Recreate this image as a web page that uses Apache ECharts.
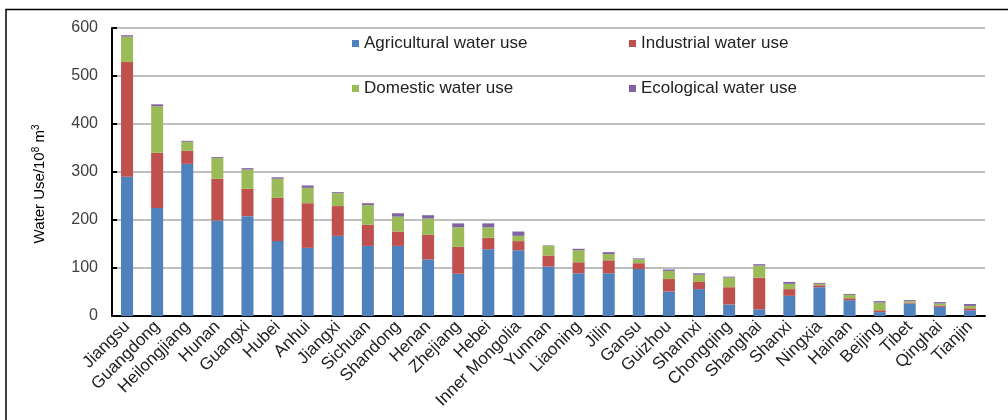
<!DOCTYPE html>
<html>
<head>
<meta charset="utf-8">
<script src="https://cdn.jsdelivr.net/npm/echarts@6/dist/echarts.min.js"></script>
<style>
  html, body { margin: 0; padding: 0; background: #fff; }
  #chart { width: 1008px; height: 420px; }
</style>
</head>
<body>
<div id="chart"></div>
<script>
// Provinces, ordered by total water use (10^8 m^3)
const provinces = ['Jiangsu', 'Guangdong', 'Heilongjiang', 'Hunan', 'Guangxi', 'Hubei', 'Anhui', 'Jiangxi',
  'Sichuan', 'Shandong', 'Henan', 'Zhejiang', 'Hebei', 'Inner Mongolia', 'Yunnan', 'Liaoning', 'Jilin',
  'Gansu', 'Guizhou', 'Shannxi', 'Chongqing', 'Shanghai', 'Shanxi', 'Ningxia', 'Hainan', 'Beijing',
  'Tibet', 'Qinghai', 'Tianjin'];

const agricultural = [290, 225, 317, 199, 208, 156, 142, 167, 146, 146, 118, 88, 139, 137, 103, 89, 89,
  98, 51, 56, 24, 14, 42, 60, 33, 8, 26, 19, 12];
const industrial = [239, 115, 27, 87, 57, 90, 93, 62, 44, 30, 51, 56, 24, 19, 23, 23, 27,
  12, 26, 15, 36, 66, 14, 4, 4, 4, 2, 3, 4];
const domestic = [53, 97, 19, 43, 40, 40, 32, 27, 41, 31, 34, 41, 22, 11, 20, 25, 13,
  8, 17, 15, 20, 25, 11, 3, 7, 16, 3, 4, 5];
const ecological = [3, 4, 2, 2, 3, 3, 5, 2, 4, 7, 7, 8, 8, 9, 1, 3, 4,
  2, 3, 3, 2, 3, 4, 2, 2, 3, 2, 3, 4];

const seriesNames = ['Agricultural water use', 'Industrial water use', 'Domestic water use', 'Ecological water use'];
const seriesColors = ['#4f81bd', '#c0504d', '#9bbb59', '#8064a2'];
const yTicks = { min: 0, max: 600, interval: 100 };

const font = 'Arial, "Liberation Sans", sans-serif';
const chart = echarts.init(document.getElementById('chart'), null, { renderer: 'canvas' });

function legendAt(name, left, top) {
  return {
    data: [name], left: left, top: top, orient: 'horizontal',
    itemWidth: 7, itemHeight: 7, icon: 'rect',
    textStyle: { fontFamily: font, fontSize: 17, color: '#222' },
    selectedMode: false
  };
}

const values = [agricultural, industrial, domestic, ecological];

chart.setOption({
  animation: false,
  grid: { left: 112, right: 23, top: 28, bottom: 104, containLabel: false },
  legend: [
    legendAt(seriesNames[0], 347, 30),
    legendAt(seriesNames[1], 624, 30),
    legendAt(seriesNames[2], 347, 75),
    legendAt(seriesNames[3], 624, 75)
  ],
  xAxis: {
    type: 'category',
    data: provinces,
    axisLine: { lineStyle: { color: '#000', width: 2 } },
    axisTick: { show: false },
    axisLabel: { rotate: 45, interval: 0, margin: 8, fontFamily: font, fontSize: 17, color: '#222' }
  },
  yAxis: {
    type: 'value',
    min: yTicks.min, max: yTicks.max, interval: yTicks.interval,
    axisLine: { show: true, lineStyle: { color: '#000', width: 2 } },
    axisTick: { show: true, inside: true, length: 5, lineStyle: { color: '#000', width: 2 } },
    axisLabel: { margin: 14, fontFamily: font, fontSize: 16, color: '#404040' },
    splitLine: { lineStyle: { color: '#bfbfbf', width: 2 } }
  },
  series: seriesNames.map((name, i) => ({
    name: name,
    type: 'bar',
    stack: 'total',
    barWidth: 12,
    itemStyle: { color: seriesColors[i] },
    data: values[i]
  })),
  graphic: [
    {
      type: 'rect',
      shape: { x: 6, y: 9.5, width: 1010, height: 420 },
      style: { fill: 'none', stroke: '#000', lineWidth: 1.5 },
      silent: true
    },
    {
      type: 'text',
      x: 40, y: 184,
      rotation: Math.PI / 2,
      style: {
        text: '{a|Water Use/10}{s|8}{a| m}{s|3}',
        align: 'center', verticalAlign: 'middle',
        rich: {
          a: { fontFamily: font, fontSize: 15, color: '#222' },
          s: { fontFamily: font, fontSize: 10, color: '#222', verticalAlign: 'top', padding: [0, 0, 8, 0] }
        }
      },
      silent: true
    }
  ]
});
</script>
</body>
</html>
